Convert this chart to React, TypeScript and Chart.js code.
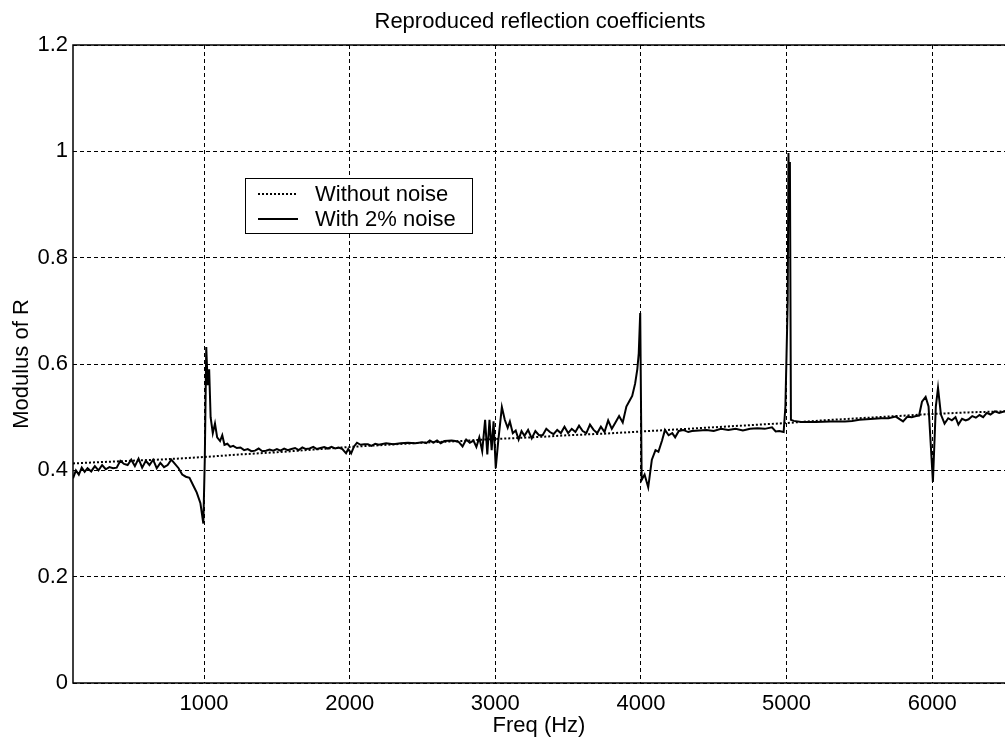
import React, { useEffect, useRef } from "react";
import { Chart, registerables } from "chart.js";

Chart.register(...registerables);

const titleText = "Reproduced reflection coefficients";
const xTitle = "Freq (Hz)";
const yTitle = "Modulus of R";
const seriesLabels = ["Without noise", "With 2% noise"];
const xTicks = [1000, 2000, 3000, 4000, 5000, 6000];
const yTicks = [0, 0.2, 0.4, 0.6, 0.8, 1, 1.2];
const yTickLabels = ["0", "0.2", "0.4", "0.6", "0.8", "1", "1.2"];

const cleanFreq = [100, 250, 500, 750, 1000, 1250, 1500, 1750, 2000, 2250, 2500, 2750, 3000, 3250, 3500, 3750, 4000, 4250, 4500, 4750, 5000, 5250, 5500, 5750, 6000, 6250, 6500];
const cleanMod = [0.413, 0.415, 0.418, 0.421, 0.425, 0.43, 0.434, 0.439, 0.444, 0.448, 0.452, 0.455, 0.459, 0.462, 0.466, 0.469, 0.473, 0.477, 0.481, 0.485, 0.489, 0.494, 0.498, 0.502, 0.506, 0.509, 0.511];

const noisyFreq = [
  100, 120, 140, 160, 180, 200, 225, 250, 275, 300, 325, 350, 375, 400, 425, 450, 475, 500, 525, 550, 575, 600, 625, 650, 675, 700, 725, 750, 775, 800, 825, 850, 875, 900, 925, 950, 975, 995,
  1005, 1015, 1025, 1035, 1045, 1060, 1075, 1090, 1110, 1125, 1140, 1160, 1180, 1200, 1225, 1250, 1275, 1300, 1325, 1350, 1375, 1400, 1425, 1450, 1475, 1500, 1525, 1550, 1575, 1600, 1625, 1650, 1675, 1700, 1725, 1750, 1775, 1800, 1825, 1850, 1875, 1900, 1925, 1950, 1975, 1990,
  2010, 2030, 2050, 2075, 2100, 2125, 2150, 2175, 2200, 2250, 2300, 2350, 2400, 2450, 2500, 2525, 2550, 2575, 2600, 2625, 2650, 2700, 2725, 2750, 2775, 2800, 2825, 2850, 2870, 2890, 2910, 2930, 2945, 2960, 2975, 2988,
  3003, 3020, 3045, 3065, 3085, 3100, 3120, 3140, 3160, 3180, 3200, 3225, 3250, 3275, 3300, 3325, 3350, 3375, 3400, 3425, 3450, 3475, 3500, 3525, 3550, 3575, 3600, 3625, 3650, 3675, 3700, 3725, 3750, 3775, 3800, 3825, 3850, 3875, 3900, 3920, 3940, 3960, 3975, 3985, 3995,
  4005, 4025, 4050, 4075, 4100, 4120, 4145, 4165, 4190, 4215, 4235, 4260, 4290, 4325, 4350, 4400, 4450, 4500, 4550, 4600, 4650, 4700, 4750, 4800, 4850, 4900, 4925, 4950, 4980, 4992,
  5000, 5008, 5013, 5018, 5023, 5030, 5050, 5100, 5200, 5300, 5400, 5450, 5500, 5550, 5600, 5650, 5700, 5750, 5800, 5830, 5860, 5890, 5910, 5930, 5955, 5975,
  6005, 6025, 6040, 6060, 6085, 6110, 6135, 6160, 6180, 6205, 6230, 6250, 6275, 6300, 6325, 6350, 6375, 6400, 6430, 6460, 6500
];
const noisyMod = [
  0.385, 0.4, 0.392, 0.405, 0.397, 0.404, 0.398, 0.408, 0.4, 0.41, 0.402, 0.406, 0.404, 0.405, 0.418, 0.412, 0.41, 0.42, 0.408, 0.422, 0.405, 0.418, 0.41, 0.42, 0.404, 0.414, 0.406, 0.41, 0.42, 0.412, 0.404, 0.392, 0.388, 0.386, 0.372, 0.358, 0.338, 0.3,
  0.42, 0.632, 0.56, 0.59, 0.5, 0.47, 0.488, 0.462, 0.455, 0.466, 0.448, 0.45, 0.444, 0.446, 0.442, 0.443, 0.438, 0.44, 0.436, 0.437, 0.441, 0.436, 0.437, 0.439, 0.437, 0.44, 0.437, 0.441, 0.438, 0.44, 0.442, 0.438, 0.443, 0.44, 0.441, 0.444, 0.44, 0.442, 0.444, 0.441, 0.444, 0.441, 0.443, 0.44, 0.432, 0.44,
  0.432, 0.445, 0.452, 0.448, 0.449, 0.449, 0.446, 0.45, 0.448, 0.451, 0.449, 0.451, 0.452, 0.451, 0.453, 0.451, 0.456, 0.452, 0.456, 0.451, 0.455, 0.456, 0.455, 0.453, 0.445, 0.458, 0.452, 0.456, 0.444, 0.462, 0.436, 0.495, 0.43, 0.495, 0.438, 0.492,
  0.404, 0.455, 0.519, 0.495, 0.48, 0.492, 0.47, 0.475, 0.458, 0.474, 0.465, 0.476, 0.46, 0.474, 0.466, 0.466, 0.478, 0.472, 0.468, 0.476, 0.47, 0.482, 0.47, 0.478, 0.472, 0.484, 0.474, 0.47, 0.486, 0.476, 0.47, 0.482, 0.472, 0.494, 0.478, 0.49, 0.502, 0.49, 0.52, 0.53, 0.54, 0.563, 0.59, 0.62, 0.696,
  0.382, 0.392, 0.368, 0.42, 0.438, 0.435, 0.456, 0.476, 0.466, 0.47, 0.462, 0.474, 0.476, 0.472, 0.474, 0.475, 0.476, 0.474, 0.478, 0.476, 0.478, 0.475, 0.478, 0.479, 0.478, 0.481, 0.473, 0.474, 0.472, 0.52,
  0.62, 0.72, 0.997, 0.9, 0.98, 0.495, 0.493, 0.491, 0.491, 0.492, 0.492, 0.493, 0.495, 0.496, 0.497, 0.498, 0.498, 0.501, 0.492, 0.501, 0.5, 0.502, 0.503, 0.529, 0.538, 0.52,
  0.378, 0.52, 0.555, 0.505, 0.488, 0.498, 0.494, 0.5, 0.486, 0.497, 0.494, 0.496, 0.502, 0.499, 0.504, 0.5, 0.508, 0.505, 0.511, 0.508, 0.511
];

const FONT_FAMILY = '"Liberation Sans", Arial, sans-serif';
const FONT_SIZE = 22;

export default function App() {
  const canvasRef = useRef<HTMLCanvasElement | null>(null);

  useEffect(() => {
    const canvas = canvasRef.current;
    if (!canvas) return;

    const decor = {
      id: "decor",
      afterDraw(chart: any) {
        const ctx = chart.ctx;
        const a = chart.chartArea;
        ctx.save();
        // axes box (top, left, bottom)
        ctx.strokeStyle = "#000";
        ctx.lineWidth = 1.5;
        ctx.setLineDash([]);
        ctx.beginPath();
        ctx.moveTo(a.right + 2, a.top);
        ctx.lineTo(a.left, a.top);
        ctx.lineTo(a.left, a.bottom);
        ctx.lineTo(a.right + 2, a.bottom);
        ctx.stroke();

        // title
        ctx.fillStyle = "#000";
        ctx.font = `${FONT_SIZE}px ${FONT_FAMILY}`;
        ctx.textAlign = "center";
        ctx.textBaseline = "middle";
        ctx.fillText(titleText, (a.left + a.right + 2) / 2, 22);

        // legend
        const lx = 245, ly = 178, lw = 227, lh = 55;
        ctx.fillStyle = "#fff";
        ctx.fillRect(lx, ly, lw, lh);
        ctx.strokeStyle = "#000";
        ctx.lineWidth = 1;
        ctx.strokeRect(lx + 0.5, ly + 0.5, lw, lh);
        const rows = [194, 219];
        const dashes = [[2, 2], []];
        seriesLabels.forEach((label, i) => {
          ctx.beginPath();
          ctx.setLineDash(dashes[i]);
          ctx.lineWidth = 2;
          ctx.moveTo(258, rows[i]);
          ctx.lineTo(298, rows[i]);
          ctx.stroke();
          ctx.setLineDash([]);
          ctx.fillStyle = "#000";
          ctx.textAlign = "left";
          ctx.textBaseline = "middle";
          ctx.fillText(label, 315, rows[i] + 1);
        });
        ctx.restore();
      },
    };

    const chart = new Chart(canvas, {
      type: "line",
      data: {
        datasets: [
          {
            label: seriesLabels[0],
            data: cleanFreq.map((f, i) => ({ x: f, y: cleanMod[i] })),
            borderColor: "#000",
            borderWidth: 2,
            borderDash: [2, 2],
            pointRadius: 0,
            tension: 0,
            fill: false,
          },
          {
            label: seriesLabels[1],
            data: noisyFreq.map((f, i) => ({ x: f, y: noisyMod[i] })),
            borderColor: "#000",
            borderWidth: 2,
            pointRadius: 0,
            tension: 0,
            fill: false,
          },
        ],
      },
      options: {
        responsive: false,
        animation: false,
        devicePixelRatio: 1,
        layout: { padding: { left: 0, right: 0, top: 45, bottom: 0 } },
        plugins: {
          legend: { display: false },
          title: { display: false },
          tooltip: { enabled: false },
        },
        scales: {
          x: {
            type: "linear",
            min: 100,
            max: 6500,
            afterBuildTicks: (s: any) => {
              s.ticks = xTicks.map((v) => ({ value: v }));
            },
            afterFit: (s: any) => {
              s.height = 62;
            },
            ticks: {
              color: "#000",
              font: { family: FONT_FAMILY, size: FONT_SIZE },
              padding: 8,
              maxRotation: 0,
              autoSkip: false,
              callback: (v: any) => String(v),
            },
            grid: { color: "#000", lineWidth: 1, drawTicks: false },
            border: { display: false, dash: [4, 3] },
            title: {
              display: true,
              text: xTitle,
              color: "#000",
              font: { family: FONT_FAMILY, size: FONT_SIZE },
              padding: { top: 0, bottom: 6 },
            },
          },
          y: {
            type: "linear",
            min: 0,
            max: 1.2,
            afterBuildTicks: (s: any) => {
              s.ticks = yTicks.map((v) => ({ value: v }));
            },
            afterFit: (s: any) => {
              s.width = 73;
            },
            ticks: {
              color: "#000",
              font: { family: FONT_FAMILY, size: FONT_SIZE },
              padding: 5,
              callback: (v: any) => {
                const idx = yTicks.findIndex((t) => Math.abs(t - v) < 1e-9);
                return idx >= 0 ? yTickLabels[idx] : "";
              },
            },
            grid: { color: "#000", lineWidth: 1, drawTicks: false },
            border: { display: false, dash: [4, 3] },
            title: {
              display: true,
              text: yTitle,
              color: "#000",
              font: { family: FONT_FAMILY, size: FONT_SIZE },
              padding: { top: 9, bottom: 0 },
            },
          },
        },
      },
      plugins: [decor],
    });

    return () => {
      chart.destroy();
    };
  }, []);

  return (
    <div style={{ position: "absolute", left: 0, top: 0, width: 1005, height: 745, background: "#fff" }}>
      <canvas ref={canvasRef} width={1005} height={745} />
    </div>
  );
}
